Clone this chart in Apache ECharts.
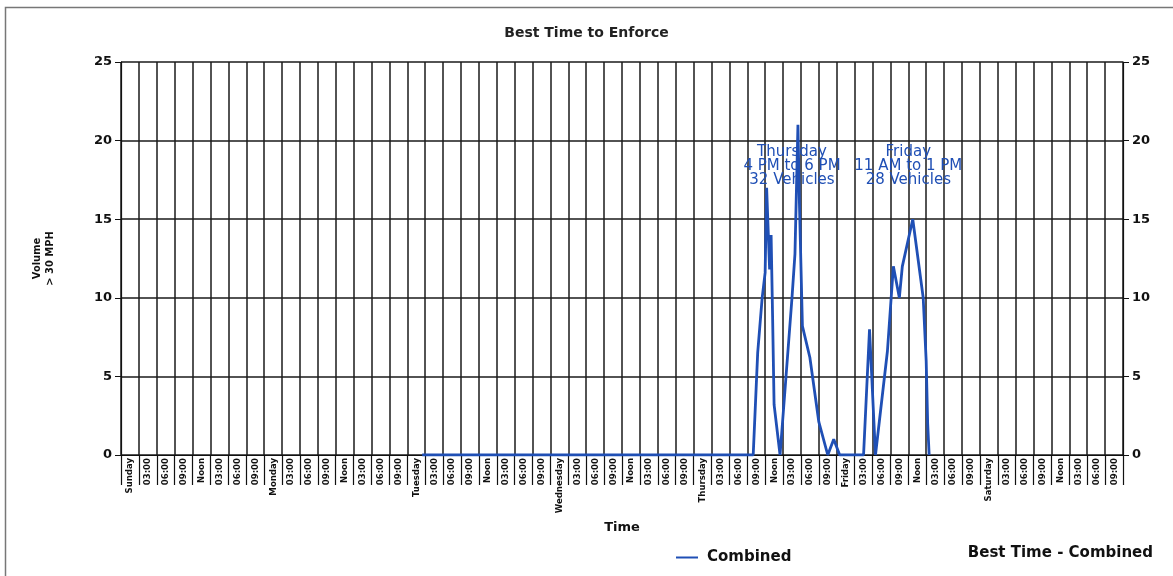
<!DOCTYPE html>
<html>
<head>
<meta charset="utf-8">
<script src="https://cdn.jsdelivr.net/npm/echarts@6/dist/echarts.min.js"></script>
<style>
  html, body { margin: 0; padding: 0; background: #fff; }
  #chart { width: 1173px; height: 576px; }
</style>
</head>
<body>
<div id="chart"></div>
<script>
// days of the week and the 3-hour slots inside each day
var days = ['Sunday', 'Monday', 'Tuesday', 'Wednesday', 'Thursday', 'Friday', 'Saturday'];
var slots = ['03:00', '06:00', '09:00', 'Noon', '03:00', '06:00', '09:00'];

// hours since Sunday 00:00, and volume > 30 MPH at that time
var hours = [50.5, 106.0, 106.75, 107.5, 108.0, 108.25, 108.75, 109.0, 109.25, 109.5, 110.5,
             112.5, 113.0, 113.5, 113.75, 114.25, 115.5, 117.0, 118.5, 119.5, 120.5,
             124.5, 125.5, 126.5, 128.5, 129.5, 130.0, 130.5, 131.0, 132.75, 134.5, 135.0, 135.25, 135.5];
var volume = [0, 0, 6.5, 10, 11.6, 17, 11.8, 14, 8.8, 3.2, 0,
              10, 12.8, 21, 16, 8.2, 6.2, 2.1, 0, 1, 0,
              0, 8, 0, 6.6, 12, 11, 10, 12, 15, 10, 6, 2, 0];

// best-time notes: [hour, volume, text]
var notes = [
    [112.5, 18.4, 'Thursday\n4 PM to 6 PM\n32 Vehicles'],
    [132.0, 18.4, 'Friday\n11 AM to 1 PM\n28 Vehicles']
];

var categories = [];
for (var d = 0; d < days.length; d++) {
    categories.push(days[d]);
    for (var s = 0; s < slots.length; s++) {
        categories.push(slots[s]);
    }
}

var points = [];
for (var i = 0; i < hours.length; i++) {
    points.push([hours[i], volume[i]]);
}

var blue = '#1f4fb5';
var ink = '#111';
var narrow = 'DejaVu Sans Condensed';

var myChart = echarts.init(document.getElementById('chart'));

var yCommon = {
    type: 'value',
    min: 0,
    max: 25,
    interval: 5,
    axisLine: { show: true, lineStyle: { color: ink, width: 1.2 } },
    axisTick: { show: true, length: 6, lineStyle: { color: ink } },
    axisLabel: { color: ink, fontWeight: 'bold', fontSize: 13, fontFamily: 'DejaVu Sans', margin: 9 }
};

var option = {
    backgroundColor: '#fff',
    animation: false,
    title: {
        text: 'Best Time to Enforce',
        left: 'center',
        top: 21,
        textStyle: { fontSize: 14, fontWeight: 'bold', color: '#222', fontFamily: 'DejaVu Sans' }
    },
    legend: {
        data: ['Combined'],
        left: 671,
        top: 545,
        itemWidth: 22,
        itemHeight: 2,
        icon: 'rect',
        textStyle: { fontSize: 15, fontWeight: 'bold', color: ink, fontFamily: 'DejaVu Sans', padding: [0, 0, 0, 4] }
    },
    graphic: [
        {
            type: 'text',
            right: 20,
            top: 546,
            style: { text: 'Best Time - Combined', fontSize: 15, fontWeight: 'bold', fill: ink, fontFamily: 'DejaVu Sans' }
        },
        {
            type: 'rect',
            left: 3,
            top: 5,
            shape: { width: 1200, height: 600 },
            style: { fill: 'none', stroke: '#777', lineWidth: 1.5 },
            silent: true
        }
    ],
    grid: { left: 121, right: 50, top: 62, bottom: 121 },
    xAxis: [
        {
            type: 'category',
            data: categories,
            boundaryGap: true,
            name: 'Time',
            nameLocation: 'middle',
            nameGap: 59,
            nameTextStyle: { fontSize: 13, fontWeight: 'bold', color: ink, fontFamily: 'DejaVu Sans' },
            axisLine: { lineStyle: { color: ink, width: 1.2 } },
            axisTick: { show: true, interval: 0, length: 30, lineStyle: { color: ink, width: 1.2 } },
            axisLabel: {
                interval: 0,
                rotate: 90,
                margin: 3,
                color: ink,
                fontSize: 9.5,
                fontFamily: narrow,
                fontWeight: 'bold'
            },
            splitLine: { show: true, interval: 0, lineStyle: { color: '#1a1a1a', width: 1.5 } }
        },
        {
            type: 'value',
            min: 0,
            max: 168,
            show: false
        }
    ],
    yAxis: [
        Object.assign({}, yCommon, {
            position: 'left',
            name: 'Volume\n> 30 MPH',
            nameLocation: 'middle',
            nameRotate: 90,
            nameGap: 64,
            nameTextStyle: { fontSize: 11, fontWeight: 'bold', color: ink, fontFamily: narrow, lineHeight: 13 },
            splitLine: { show: true, lineStyle: { color: '#1a1a1a', width: 1.5 } }
        }),
        Object.assign({}, yCommon, {
            position: 'right',
            splitLine: { show: false }
        })
    ],
    series: [{
        name: 'Combined',
        type: 'line',
        xAxisIndex: 1,
        yAxisIndex: 0,
        data: points,
        symbol: 'none',
        lineStyle: { color: blue, width: 2.8 },
        itemStyle: { color: blue },
        z: 5,
        markPoint: {
            symbol: 'rect',
            symbolSize: [1, 1],
            silent: true,
            itemStyle: { color: 'rgba(0,0,0,0)' },
            label: {
                show: true,
                position: 'inside',
                color: blue,
                fontSize: 15,
                lineHeight: 14,
                fontFamily: 'DejaVu Sans',
                formatter: function(p) { return p.name; }
            },
            data: notes.map(function(n) {
                return { name: n[2], coord: [n[0], n[1]] };
            })
        }
    }]
};

myChart.setOption(option);
</script>
</body>
</html>
